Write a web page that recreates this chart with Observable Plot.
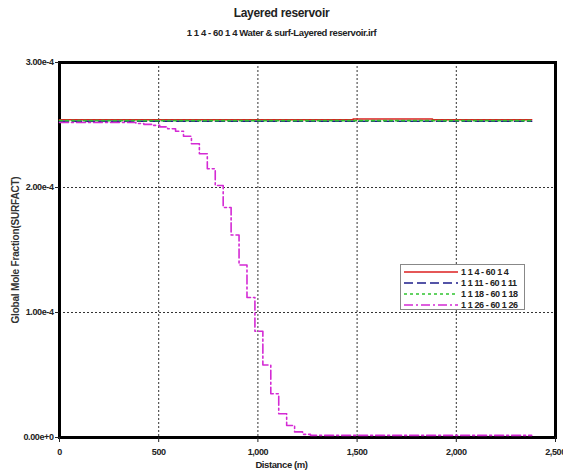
<!DOCTYPE html>
<html>
<head>
<meta charset="utf-8">
<script src="https://cdn.jsdelivr.net/npm/d3@7"></script>
<script src="https://cdn.jsdelivr.net/npm/@observablehq/plot@0.6"></script>
<style>
  body { margin: 0; background: #fff; }
  #wrap { position: relative; width: 563px; height: 473px; font-family: "Liberation Sans", Arial, sans-serif; font-weight: bold; letter-spacing: -0.4px; }
  #title { position: absolute; top: 6px; left: 0; width: 563px; text-align: center; font-size: 12px; color: #222; letter-spacing: -0.3px; }
  #subtitle { position: absolute; top: 27px; left: 0; width: 563px; text-align: center; font-size: 9.5px; color: #222; }
  #chart { position: absolute; top: 50px; left: 0; }
  #xlabel { position: absolute; top: 459px; left: 0; width: 563px; text-align: center; font-size: 9.5px; color: #222; }
  #legend { position: absolute; left: 400px; top: 264px; width: 125px; height: 46px; border: 1px solid #888; background: #fff; font-size: 9px; color: #222; box-sizing: border-box; padding-top: 1px; white-space: nowrap; }
  .row { display: flex; align-items: center; height: 11px; }
  .row svg { margin-left: 3px; margin-right: 3px; }
  #chart svg text { letter-spacing: -0.4px; }
  #chart svg g[aria-label="y-axis label"] text { font-size: 10px; letter-spacing: -0.2px; fill: #333; }
</style>
</head>
<body>
<div id="wrap">
  <div id="title">Layered reservoir</div>
  <div id="subtitle">1 1 4 - 60 1 4 Water &amp; surf-Layered reservoir.irf</div>
  <div id="chart"></div>
  <div id="xlabel">Distance (m)</div>
  <div id="legend"></div>
</div>
<script>
const seriesNames = ["1 1 4 - 60 1 4", "1 1 11 - 60 1 11", "1 1 18 - 60 1 18", "1 1 26 - 60 1 26"];
const seriesColors = ["#dd1f1f", "#1c1c8a", "#2fc42f", "#d42ad4"];
const seriesDash = [null, "9,4", "3,3", "9,3,2,3"];

const redX = [0, 1480, 1880, 2380];
const redY = [2.542e-4, 2.548e-4, 2.542e-4, 2.542e-4];
const blueX = [0, 2380];
const blueY = [2.53e-4, 2.53e-4];
const greenX = [0, 2380];
const greenY = [2.535e-4, 2.535e-4];
const magX = [0, 385, 425, 465, 505, 545, 585, 625, 665, 705, 745, 785, 825, 865, 905, 945, 985, 1025, 1065, 1105, 1145, 1185, 1225, 1265, 2380];
const magY = [2.52, 2.512, 2.505, 2.497, 2.485, 2.47, 2.45, 2.41, 2.35, 2.27, 2.15, 2.016, 1.84, 1.62, 1.38, 1.12, 0.85, 0.58, 0.35, 0.19, 0.096, 0.045, 0.025, 0.017, 0.017].map(v => v * 1e-4);

const xTicks = [0, 500, 1000, 1500, 2000, 2500];
const yTicks = [0, 1e-4, 2e-4, 3e-4];

const toRows = (xs, ys) => xs.map((x, i) => ({x, y: ys[i]}));
const series = [toRows(redX, redY), toRows(blueX, blueY), toRows(greenX, greenY), toRows(magX, magY)];

const font = `"Liberation Sans", Arial, sans-serif`;

const chart = Plot.plot({
  width: 563,
  height: 423,
  marginTop: 12,
  marginBottom: 36,
  marginLeft: 59,
  marginRight: 8,
  style: {fontFamily: font, fontWeight: "bold", fontSize: "9px", color: "#222", background: "#fff"},
  x: {domain: [0, 2500]},
  y: {domain: [0, 3e-4]},
  marks: [
    Plot.gridX(xTicks.slice(1, -1), {stroke: "#333", strokeOpacity: 1, strokeDasharray: "2,2"}),
    Plot.gridY(yTicks.slice(1, -1), {stroke: "#333", strokeOpacity: 1, strokeDasharray: "2,2"}),
    Plot.frame({stroke: "#000", strokeWidth: 3}),
    ...series.map((d, i) => Plot.line(d, {
      x: "x", y: "y", curve: "step-after",
      stroke: seriesColors[i], strokeWidth: 1.6,
      strokeDasharray: seriesDash[i] ?? undefined
    })),
    Plot.axisX({ticks: xTicks, tickFormat: d3.format(","), tickSize: 5, tickPadding: 6, label: null}),
    Plot.axisY({ticks: yTicks, tickFormat: d => d.toExponential(2), tickSize: 4, tickPadding: 2,
      label: "Global Mole Fraction(SURFACT)", labelAnchor: "center", labelArrow: "none", labelOffset: 48})
  ]
});
document.getElementById("chart").appendChild(chart);

const legend = document.getElementById("legend");
seriesNames.forEach((name, i) => {
  const row = document.createElement("div");
  row.className = "row";
  const dash = seriesDash[i] ? ` stroke-dasharray="${seriesDash[i]}"` : "";
  row.innerHTML = `<svg width="54" height="6"><line x1="0" y1="3" x2="54" y2="3" stroke="${seriesColors[i]}" stroke-width="1.6"${dash}/></svg><span>${name}</span>`;
  legend.appendChild(row);
});
</script>
</body>
</html>
